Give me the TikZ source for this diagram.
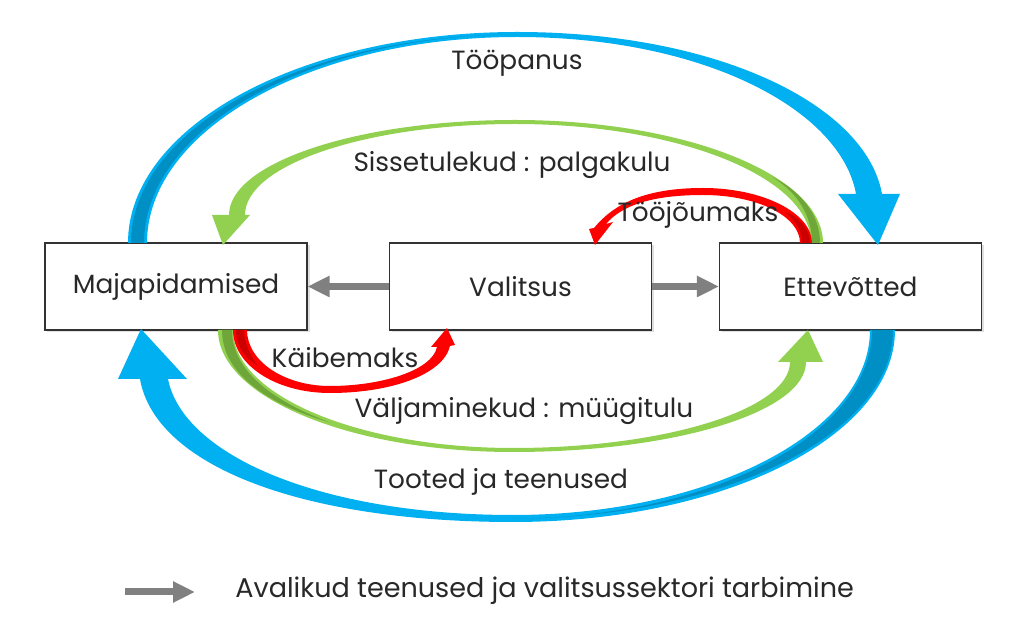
\documentclass[tikz,border=0pt]{standalone}
\usepackage{fontspec}
\setmainfont{Poppins}
\usetikzlibrary{arrows.meta,shadows}

\definecolor{flowblue}{RGB}{0,176,240}
\definecolor{flowbluedark}{RGB}{0,143,196}
\definecolor{flowgreen}{RGB}{146,208,80}
\definecolor{flowgreendark}{RGB}{110,166,58}
\definecolor{flowred}{RGB}{255,0,0}
\definecolor{flowreddark}{RGB}{204,0,0}
\definecolor{flowgray}{RGB}{128,128,128}
\definecolor{labeltext}{RGB}{40,40,40}

\begin{document}
\begin{tikzpicture}[x=0.2mm,y=-0.2mm,
    sector/.style={draw=black!80,line width=0.6pt,fill=white,text=labeltext,
      minimum width=52.4mm,minimum height=17.4mm,font=\fontsize{15}{18}\selectfont,
      drop shadow={shadow xshift=0.5mm,shadow yshift=-0.5mm,opacity=0.25}},
    flowlabel/.style={text=labeltext,anchor=base,inner sep=0pt,font=\fontsize{15}{18}\selectfont},
    govarrow/.style={flowgray,line width=1.4mm,-{Triangle[length=4.4mm,width=4mm]}}]

    \useasboundingbox (0,0) rectangle (1024,622);

    \node[sector] (maja) at (176,286.5) {Majapidamised};
    \node[sector] (valitsus) at (520.5,286.5) {Valitsus};
    \node[sector] (ette) at (850.5,286.5) {Ettevõtted};

    % tööpanus
    \fill[flowblue] (128,243) .. controls (128,126) and (302,32) .. (517,32)
        .. controls (718,32) and (866,105) .. (882,194) -- (900,194) -- (878,245) -- (838,194) -- (856,194)
        .. controls (841,110) and (704,37) .. (517,37)
        .. controls (313,37) and (147,129) .. (147,243) -- cycle;
    \fill[flowbluedark] (131,243) .. controls (131,128) and (304,34.5) .. (517,34.5)
        .. controls (311,34.5) and (144,128) .. (144,243) -- cycle;

    % tooted ja teenused
    \fill[flowblue] (895,330) .. controls (895,436) and (724,522) .. (513,522)
        .. controls (300,522) and (155,465) .. (140,379) -- (118,379) -- (141,329) -- (187,379) -- (168,379)
        .. controls (183,455) and (320,515) .. (513,515)
        .. controls (710,515) and (870,432) .. (870,330) -- cycle;
    \fill[flowbluedark] (893,330) .. controls (893,434) and (723,518.5) .. (513,518.5)
        .. controls (711,518.5) and (872,434) .. (872,330) -- cycle;

    % palgakulu
    \fill[flowgreen] (823,243) .. controls (823,175) and (685,120) .. (515,120)
        .. controls (357,120) and (229,163) .. (229,215) -- (212,215) -- (223,245) -- (250,215) -- (245,215)
        .. controls (245,165) and (366,124) .. (515,124)
        .. controls (678,124) and (811,177) .. (811,243) -- cycle;
    \fill[flowgreendark] (812,243) .. controls (812,215) and (797,192) .. (772,177)
        .. controls (799,190) and (820,213) .. (820,243) -- cycle;

    % müügitulu
    \fill[flowgreen] (218,330) .. controls (218,397) and (350,452) .. (513,452)
        .. controls (675,452) and (806,412) .. (806,362) -- (823,362) -- (808,330) -- (778,362) -- (790,362)
        .. controls (790,409) and (666,448) .. (513,448)
        .. controls (358,448) and (233,395) .. (233,330) -- cycle;
    \fill[flowgreendark] (222,330) .. controls (222,375) and (270,405) .. (330,422.5)
        .. controls (275,402) and (232,372) .. (232,330) -- cycle;

    % tööjõumaks
    \fill[flowred] (812,243) .. controls (812,213) and (763,188) .. (703,188)
        .. controls (643,188) and (613,205) .. (594,228) -- (589,229) -- (595,245) -- (613,222) -- (606,224)
        .. controls (622,205) and (653,195) .. (703,195)
        .. controls (757,195) and (800,216) .. (800,243) -- cycle;
    \fill[flowreddark] (802,243) .. controls (802,230) and (794,219) .. (785,212)
        .. controls (798,216) and (810,228) .. (810,243) -- cycle;

    % käibemaks
    \fill[flowred] (233,330) .. controls (233,365) and (276,393) .. (330,393)
        .. controls (390,393) and (443,375) .. (450,346) -- (455,345) -- (447,328) -- (431,347) -- (437,347)
        .. controls (432,371) and (380,386) .. (330,386)
        .. controls (284,386) and (247,361) .. (247,330) -- cycle;
    \fill[flowreddark] (236,330) .. controls (236,347) and (245,358) .. (258,366)
        .. controls (250,355) and (244,343) .. (244,330) -- cycle;

    \draw[govarrow] (valitsus) -- (maja);
    \draw[govarrow] (valitsus) -- (ette);

    \node[flowlabel] (toopanus) at (517,70) {Tööpanus};
    \node[flowlabel] (sissetulekud) at (512,172) {Sissetulekud : palgakulu};
    \node[flowlabel] (toojoumaks) at (698,222) {Tööjõumaks};
    \node[flowlabel] (kaibemaks) at (345,368) {Käibemaks};
    \node[flowlabel] (valjaminekud) at (524,418) {Väljaminekud : müügitulu};
    \node[flowlabel] (tooted) at (501,489) {Tooted ja teenused};

    \coordinate (legendstart) at (125,592);
    \coordinate (legendend) at (195,592);
    \draw[govarrow] (legendstart) -- (legendend);
    \node[flowlabel,anchor=base west,font=\fontsize{15.4}{18}\selectfont] (legend) at (235,598) {Avalikud teenused ja valitsussektori tarbimine};
\end{tikzpicture}
\end{document}
